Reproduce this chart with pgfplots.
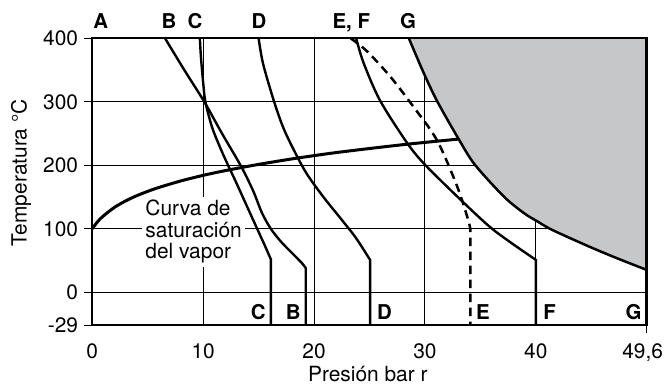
\documentclass[border=0pt]{standalone}
\usepackage{fontspec}
\setmainfont{TeX Gyre Heros}
\usepackage{pgfplots}
\pgfplotsset{compat=1.18}
\definecolor{shade}{RGB}{198,199,201}
\newcommand\lbl{\fontsize{21}{25}\selectfont}
\newcommand\blbl{\fontsize{20.5}{24}\selectfont\bfseries}
\begin{document}
\begin{tikzpicture}
\begin{axis}[
  at={(0,0)}, anchor=south west,
  scale only axis, width=554.4bp, height=286.7bp,
  xmin=0, xmax=50, ymin=-51.6, ymax=400,
  xtick={0,10,20,30,40,50}, xticklabels={0,10,20,30,40,{}},
  ytick={-51.6,0,100,200,300,400}, yticklabels={-29,0,100,200,300,400},
  grid=major, grid style={line width=0.9bp, black},
  axis line style={line width=2.4bp},
  major tick length=0pt,
  xticklabel style={font=\lbl, anchor=base, inner sep=0pt, yshift=-33bp},
  yticklabel style={font=\lbl, anchor=east, inner sep=0pt, xshift=-14bp},
  clip=false,
]
% label box
\node[fill=white, inner sep=3.5bp, align=left, anchor=north west, font=\fontsize{21}{21.5}\selectfont]
  at (axis cs:4.46,150.9) {Curva de\\saturación\\del vapor};
% gray region
\addplot[smooth, fill=shade, draw=none] coordinates {(28.55,400)(29.9,345)(31.1,301)(33.05,241)(34.5,201)(37.1,151)(38.9,125)(40.2,111)(41.5,98)(44.8,72)(47.4,53)(50,35.2)} -- (axis cs:50,400) -- cycle;
% G
\addplot[smooth, line width=2.5bp] coordinates {(28.55,400)(29.9,345)(31.1,301)(33.05,241)(34.5,201)(37.1,151)(38.9,125)(40.2,111)(41.5,98)(44.8,72)(47.4,53)(50,35.2)};
% saturation
\addplot[smooth, line width=3bp] coordinates {(0,100)(0.5,111.6)(1,120.2)(2,133.7)(3,143.8)(4,152)(5,158.9)(6,165)(8,175.4)(10,184.1)(12,191.6)(15,201.4)(18,210)(20,215.2)(22,220)(25,226.4)(28,232.4)(30,236)(33.05,241.3)};
% B
\addplot[smooth, line width=2.4bp] coordinates {(6.56,400)(8.3,350)(10.1,300)(11.7,250)(13.4,199)(14.5,160)(15.3,125)(16.1,100)(17.0,80)(18.0,62)(18.9,46)(19.25,38)} -- (axis cs:19.25,-51.6);
% C
\addplot[smooth, line width=2.4bp] coordinates {(9.7,400)(9.8,370)(10.0,330)(10.2,300)(10.8,260)(11.6,225)(12.3,198)(13.0,172)(13.7,145)(14.4,118)(15.0,95)(15.6,72)(16.1,52)} -- (axis cs:16.1,-51.6);
% D
\addplot[smooth, line width=2.4bp] coordinates {(15.0,400)(15.4,360)(16.4,300)(17.3,256)(18.5,213)(19.4,185)(20.8,151)(22.5,114)(23.8,85)(25.05,51)} -- (axis cs:25.05,-51.6);
% F
\addplot[smooth, line width=2.4bp] coordinates {(23.8,400)(24.45,362)(25.95,302)(28.4,235)(30.0,201)(33.2,146)(36.2,98)(40.0,51)} -- (axis cs:40.0,-51.6);
% E dashed
\addplot[smooth, line width=2.5bp, dash pattern=on 8.5bp off 5.5bp] coordinates {(23.3,400)(24.75,380)(26.86,340)(28.8,296)(31.07,240)(32.9,167)(33.9,114)(34.1,98)} -- (axis cs:34.1,-51.6);
% frame redraw
\draw[line width=2.4bp] (rel axis cs:0,0) rectangle (rel axis cs:1,1);
% y ticks
\draw[line width=0.9bp] (axis cs:0,-51.6) -- ([xshift=-8bp]axis cs:0,-51.6);
\draw[line width=0.9bp] (axis cs:0,0) -- ([xshift=-8bp]axis cs:0,0);
\draw[line width=0.9bp] (axis cs:0,100) -- ([xshift=-8bp]axis cs:0,100);
\draw[line width=0.9bp] (axis cs:0,200) -- ([xshift=-8bp]axis cs:0,200);
\draw[line width=0.9bp] (axis cs:0,300) -- ([xshift=-8bp]axis cs:0,300);
\draw[line width=0.9bp] (axis cs:0,400) -- ([xshift=-8bp]axis cs:0,400);
\draw[line width=0.9bp] (axis cs:50,-51.6) -- ([yshift=-8bp]axis cs:50,-51.6);
\node[font=\lbl, anchor=base east, inner sep=0pt] at ([xshift=16.5bp,yshift=-33bp]axis cs:50,-51.6) {49,6};
% top labels
\node[font=\blbl, anchor=base west, inner sep=0pt] at (axis cs:0.09,415.8) {A};
\node[font=\blbl, anchor=base, inner sep=0pt] at (axis cs:6.92,415.8) {B};
\node[font=\blbl, anchor=base, inner sep=0pt] at (axis cs:9.27,415.8) {C};
\node[font=\blbl, anchor=base, inner sep=0pt] at (axis cs:15.04,415.8) {D};
\node[font=\blbl, anchor=base, inner sep=0pt] at (axis cs:23.36,415.8) {E, F};
\node[font=\blbl, anchor=base, inner sep=0pt] at (axis cs:28.48,415.8) {G};
% bottom labels
\node[font=\blbl, anchor=base east, inner sep=0pt] at (axis cs:15.64,-43.7) {C};
\node[font=\blbl, anchor=base east, inner sep=0pt] at (axis cs:18.8,-43.7) {B};
\node[font=\blbl, anchor=base west, inner sep=0pt] at (axis cs:25.66,-43.7) {D};
\node[font=\blbl, anchor=base west, inner sep=0pt] at (axis cs:34.6,-43.7) {E};
\node[font=\blbl, anchor=base west, inner sep=0pt] at (axis cs:40.66,-43.7) {F};
\node[font=\blbl, anchor=base east, inner sep=0pt] at (axis cs:49.56,-43.7) {G};
% axis labels
\node[font=\lbl, anchor=base, inner sep=0pt] at ([yshift=-56.7bp]rel axis cs:0.497,0) {Presión bar r};
\node[font=\lbl, anchor=base, inner sep=0pt, rotate=90] at ([xshift=-65.6bp]rel axis cs:0,0.5316) {Temperatura °C};
\end{axis}
\pgfresetboundingbox
\path (-92.3bp,-62bp) rectangle (571.7bp,325bp);
\end{tikzpicture}
\end{document}
